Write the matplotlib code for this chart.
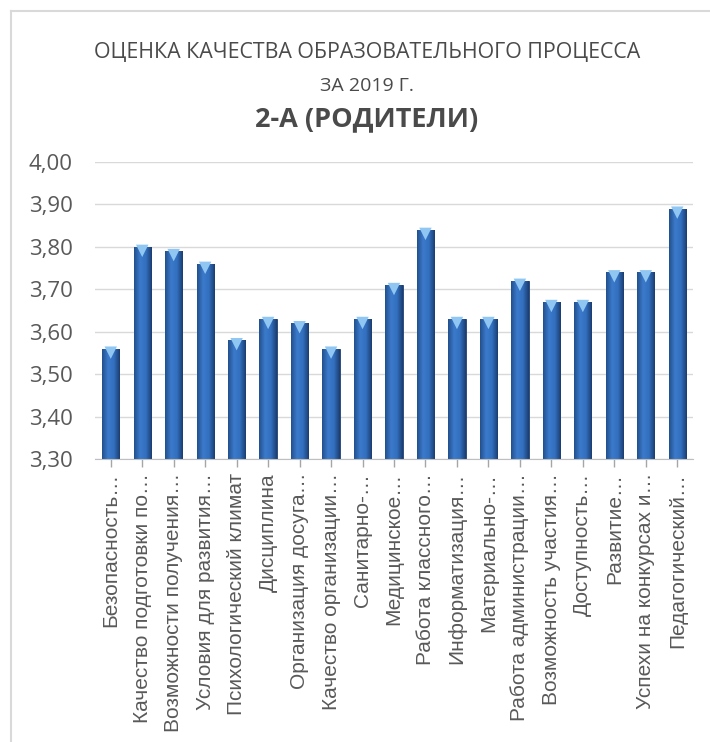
import matplotlib
matplotlib.use('Agg')
import matplotlib.pyplot as plt
import numpy as np
from matplotlib.colors import LinearSegmentedColormap
from matplotlib.lines import Line2D
import matplotlib.transforms as mtransforms

# data
categories = ['Безопасность…', 'Качество подготовки по…', 'Возможности получения…',
              'Условия для развития…', 'Психологический климат', 'Дисциплина',
              'Организация досуга…', 'Качество организации…', 'Санитарно-…',
              'Медицинское…', 'Работа классного…', 'Информатизация…',
              'Материально-…', 'Работа администрации…', 'Возможность участия…',
              'Доступность…', 'Развитие…', 'Успехи на конкурсах и…', 'Педагогический…']
values = [3.56, 3.80, 3.79, 3.76, 3.58, 3.63, 3.62, 3.56, 3.63, 3.71,
          3.84, 3.63, 3.63, 3.72, 3.67, 3.67, 3.74, 3.74, 3.89]
y_ticks = [3.30, 3.40, 3.50, 3.60, 3.70, 3.80, 3.90, 4.00]
y_tick_labels = ['3,30', '3,40', '3,50', '3,60', '3,70', '3,80', '3,90', '4,00']

title_font = ['Open Sans', 'DejaVu Sans']
label_font = ['Liberation Sans', 'DejaVu Sans']
grey = '#595959'

fig = plt.figure(figsize=(7.1, 7.42), dpi=100)
ax = fig.add_axes([95/710, 1 - 459/742, 598/710, 297/742])

x = np.arange(len(values))
bars = ax.bar(x, [v - y_ticks[0] for v in values], bottom=y_ticks[0], width=0.55,
              color='#2f69b3', edgecolor='#1d3f70', linewidth=0.6, zorder=3)

# cylinder-like shading on each bar
cmap = LinearSegmentedColormap.from_list('bar', ['#22508d', '#3b7acb', '#3370bf', '#1b3d70'])
grad = np.linspace(0, 1, 64).reshape(1, -1)
for b in bars:
    x0, y0 = b.get_x(), b.get_y()
    im = ax.imshow(grad, cmap=cmap, aspect='auto', zorder=3.5,
                   extent=[x0, x0 + b.get_width(), y0, y0 + b.get_height()])
    im.set_clip_path(b)

# light bevel at top of each bar
off = mtransforms.ScaledTranslation(0, -4/100, fig.dpi_scale_trans)
ax.scatter(x, values, marker='v', s=80, color='#8fc6f2', edgecolor='none',
           zorder=4, transform=ax.transData + off)

ax.set_xlim(-0.5, len(values) - 0.5)
ax.set_ylim(y_ticks[0], y_ticks[-1])
ax.set_yticks(y_ticks)
ax.set_yticklabels(y_tick_labels, family=title_font, fontsize=16, color=grey)
ax.set_xticks(x)
ax.set_xticklabels(categories, rotation=90, family=label_font, fontsize=15, color=grey,
                   va='top', ha='center')
ax.tick_params(axis='y', length=0, pad=16)
ax.tick_params(axis='x', length=6, color='#a6a6a6', width=1, pad=4)
for t in ax.xaxis.get_ticklines():
    t.set_linestyle((0, (1, 1)))
ax.grid(axis='y', color='#d9d9d9', linewidth=1, zorder=0)
ax.set_axisbelow(True)
for s in ['top', 'right', 'left']:
    ax.spines[s].set_visible(False)
ax.spines['bottom'].set_color('#bfbfbf')
ax.spines['bottom'].set_zorder(5)

# titles
fig.text(367/710, 1 - 53/742, 'ОЦЕНКА КАЧЕСТВА ОБРАЗОВАТЕЛЬНОГО ПРОЦЕССА', ha='center',
         va='center', family=title_font, fontsize=15.4, color='#4a4a4a')
fig.text(367/710, 1 - 86/742, 'ЗА 2019 Г.', ha='center', va='center',
         family=title_font, fontsize=14, color='#4a4a4a')
fig.text(367/710, 1 - 119/742, '2-А (РОДИТЕЛИ)', ha='center', va='center',
         family=title_font, fontsize=19.5, fontweight='bold', color='#4a4a4a')

# chart frame
fig.add_artist(Line2D([11/710, 11/710], [0, 1 - 11/742], color='#d9d9d9', linewidth=1.5,
                      transform=fig.transFigure))
fig.add_artist(Line2D([11/710, 1], [1 - 11/742, 1 - 11/742], color='#d9d9d9', linewidth=1.5,
                      transform=fig.transFigure))

fig.savefig('out.png', dpi=100, facecolor='white')
